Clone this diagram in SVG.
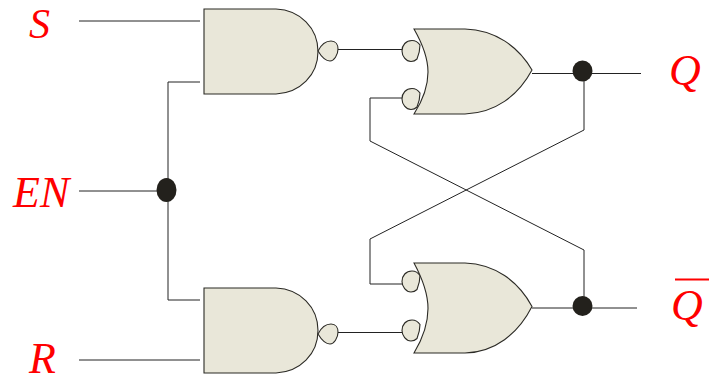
<svg xmlns="http://www.w3.org/2000/svg" width="717" height="375" viewBox="0 0 717 375">
<style>
.w{fill:none;stroke:#222;stroke-width:1}
.g{fill:#e9e7d9;stroke:#2b2a25;stroke-width:1.1}
.d{fill:#23211c;stroke:none}
.t{font-family:"Liberation Serif",serif;font-style:italic;font-size:44px;fill:#ff0000}
</style>
<defs>
<path id="nand" d="M204 9H276C300 10 318 28 318 51.500C318 75 300 93 276 94H204Z"/>
<path id="bub" d="M0 0C3 -6 8 -10 13 -10C18 -10 20 -6 20 -2C20 4 16 10 12 10C8 10 3 5 0 0Z"/>
<path id="or" d="M414 29H465C495 30 518 46 532 70C518 96 495 113 465 114H414C423 100 428 86 428 72C428 58 422 43 414 29Z"/>
<path id="ib" d="M402 0C402 -6 406 -10.500 412 -10.500C415 -10.500 418 -9 420 -6C420 -2 419 3 417 8C415 10 413 10.500 411 10.500C406 10.500 402 5 402 0Z"/>
</defs>
<g id="connectors" class="w">
<path d="M79 21H200"/>
<path d="M79 191H158"/>
<path d="M79 360H200"/>
<path d="M200 82H168V300H200"/>
<path d="M338 49.500H402"/>
<path d="M338 332.500H402"/>
<path d="M532 73.500H641"/>
<path d="M532 308H637"/>
<path d="M584 73V130L370 239V284H402"/>
<path d="M402 98H370V141L584 250V306"/>
</g>
<g id="nand-top"><use href="#nand" class="g"/><use href="#bub" class="g" x="318" y="51"/></g>
<g id="nand-bottom"><use href="#nand" class="g" y="279"/><use href="#bub" class="g" x="318" y="334"/></g>
<g id="or-top"><use href="#ib" class="g" y="51"/><use href="#ib" class="g" y="99"/><use href="#or" class="g"/></g>
<g id="or-bottom"><use href="#ib" class="g" y="281.500"/><use href="#ib" class="g" y="330.500"/><use href="#or" class="g" transform="translate(0 263) scale(1 1.059) translate(0 -29)"/></g>
<g id="junction-en"><ellipse class="d" cx="166.500" cy="190" rx="10" ry="12"/></g>
<g id="junction-q"><ellipse class="d" cx="582.500" cy="71" rx="10" ry="10.500"/></g>
<g id="junction-qbar"><ellipse class="d" cx="582.500" cy="306" rx="10" ry="10"/></g>
<g id="label-s"><text class="t" x="29" y="37.500" style="font-size:42px">S</text></g>
<g id="label-en"><text class="t" x="13" y="207">EN</text></g>
<g id="label-r"><text class="t" x="29" y="372.500">R</text></g>
<g id="label-q"><text class="t" x="669" y="85">Q</text></g>
<g id="label-qbar"><text class="t" x="671" y="319.500">Q</text><path d="M675 279.500H709" stroke="#ff0000" stroke-width="2" fill="none"/></g>
</svg>
